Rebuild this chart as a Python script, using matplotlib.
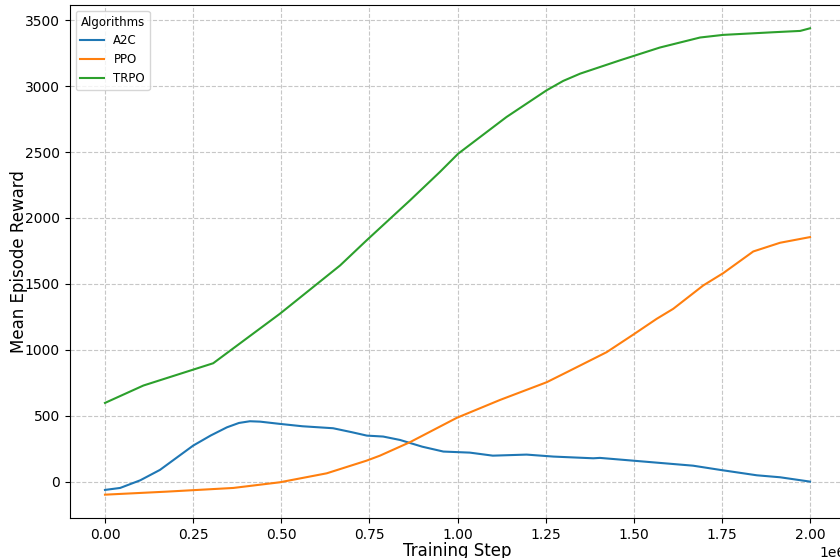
import matplotlib
matplotlib.use("Agg")
import matplotlib.pyplot as plt
import numpy as np

# values (x in millions of steps)
a2c_steps = [0.0, 0.043, 0.10, 0.156, 0.25, 0.30, 0.346, 0.38, 0.411, 0.44, 0.496,
             0.56, 0.647, 0.70, 0.743, 0.789, 0.837, 0.90, 0.96, 1.035, 1.10,
             1.196, 1.272, 1.385, 1.404, 1.498, 1.668, 1.745, 1.849, 1.915, 2.0]
a2c_reward = [-63, -48, 10, 89, 273, 350, 412, 445, 458, 455, 438,
              420, 405, 375, 349, 342, 316, 265, 228, 220, 197,
              205, 190, 177, 180, 159, 121, 89, 48, 33, 0]

ppo_steps = [0.0, 0.175, 0.364, 0.496, 0.629, 0.742, 0.78, 0.865, 0.998, 1.121,
             1.253, 1.31, 1.423, 1.499, 1.565, 1.612, 1.697, 1.754, 1.839,
             1.915, 2.0]
ppo_reward = [-99, -76, -48, -5, 63, 159, 197, 299, 484, 620,
              754, 830, 982, 1116, 1235, 1311, 1488, 1582, 1746,
              1812, 1855]

trpo_steps = [0.0, 0.109, 0.307, 0.496, 0.667, 0.742, 0.865, 0.95, 1.002, 1.139,
              1.253, 1.30, 1.348, 1.461, 1.574, 1.688, 1.754, 1.896, 1.972, 2.0]
trpo_reward = [597, 729, 898, 1273, 1640, 1830, 2133, 2349, 2488, 2766,
               2969, 3040, 3095, 3196, 3293, 3369, 3389, 3409, 3419, 3439]

series = [("A2C", a2c_steps, a2c_reward),
          ("PPO", ppo_steps, ppo_reward),
          ("TRPO", trpo_steps, trpo_reward)]

fig = plt.figure(figsize=(8.4, 5.58), dpi=100)
ax = fig.add_axes([0.083, 0.0717, 0.9233, 0.9194])

for name, steps, reward in series:
    ax.plot(np.array(steps) * 1e6, reward, label=name, linewidth=1.5)

ax.set_xlabel("Training Step", fontsize=12, labelpad=0)
ax.set_ylabel("Mean Episode Reward", fontsize=12, labelpad=-2)
ax.grid(True, linestyle="--", alpha=0.7)
ax.legend(title="Algorithms", loc="upper left", fontsize=8.5, title_fontsize=8.5)

fig.savefig("out.png", dpi=100)
